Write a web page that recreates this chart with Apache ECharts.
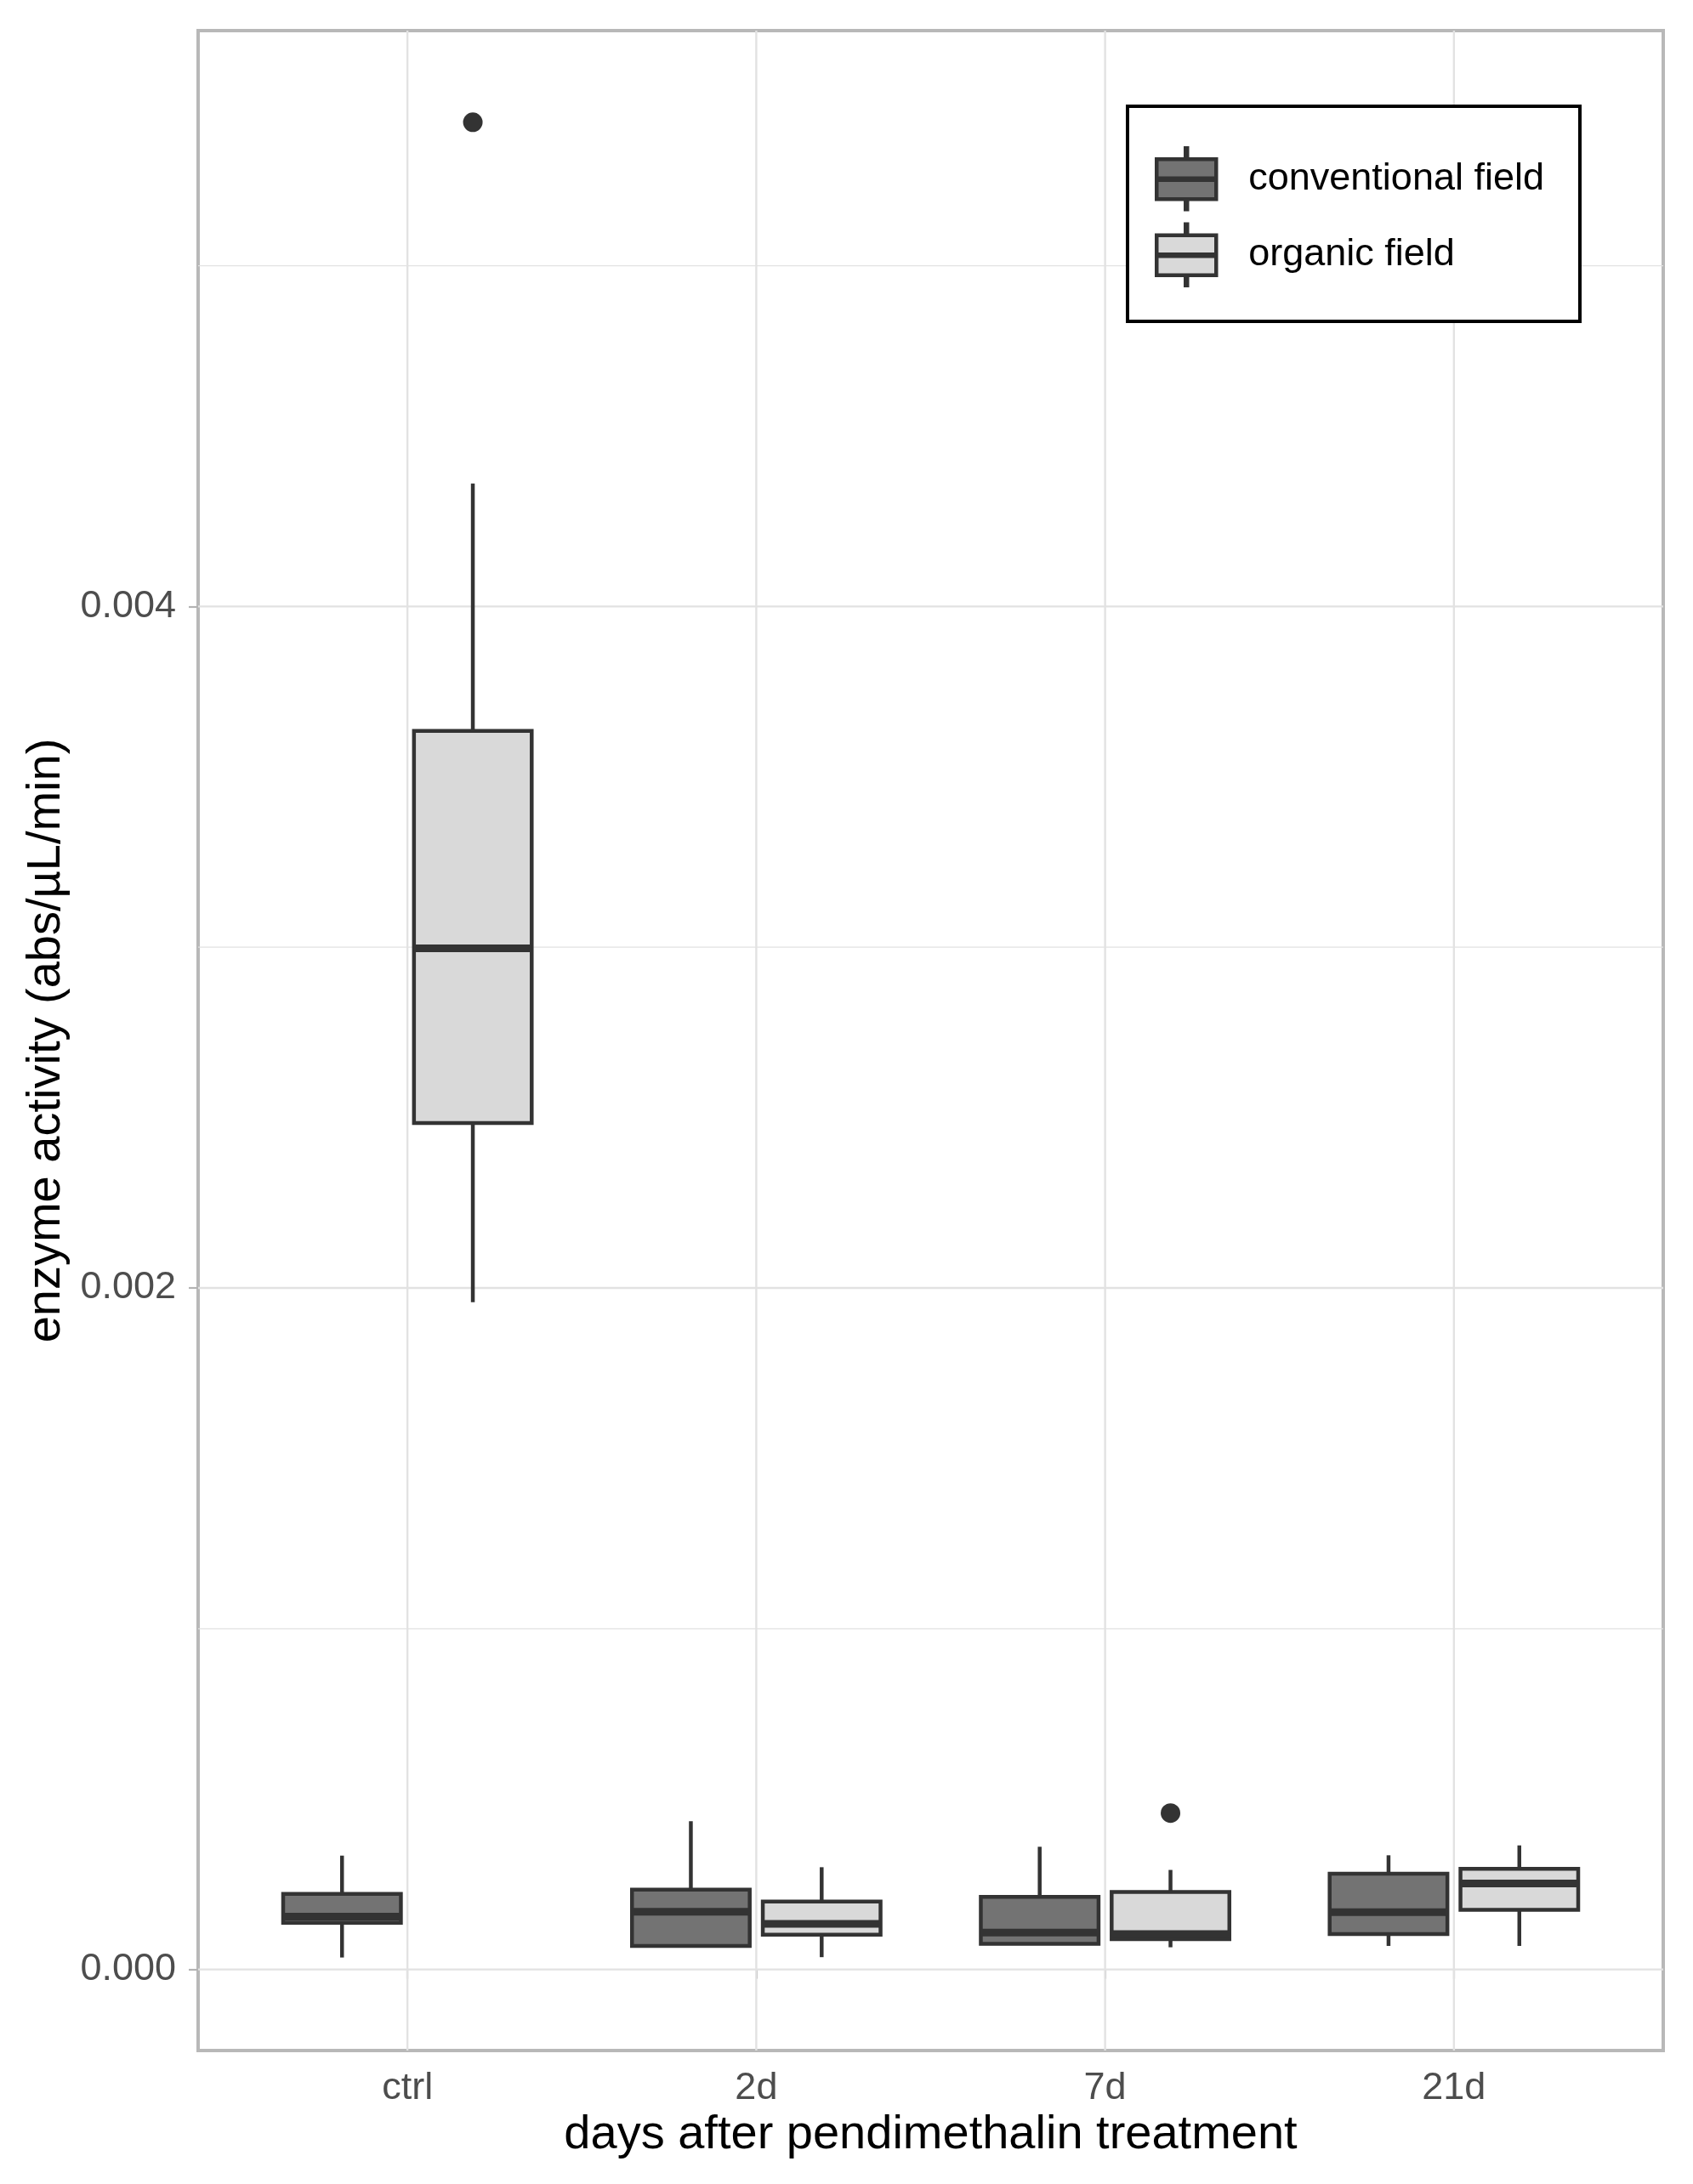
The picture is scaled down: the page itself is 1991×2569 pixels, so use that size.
<!DOCTYPE html>
<html>
<head>
<meta charset="utf-8">
<script src="https://cdn.jsdelivr.net/npm/echarts@6/dist/echarts.min.js"></script>
<style>
  html, body { margin: 0; padding: 0; background: #fff; }
  #chart { width: 1991px; height: 2569px; }
</style>
</head>
<body>
<div id="chart"></div>
<script>
// categories on the x axis
var categories = ['ctrl', '2d', '7d', '21d'];
// box stats per category: [min, Q1, median, Q3, max]
var conventionalStats = [
    [0.000035, 0.000137, 0.000155, 0.000222, 0.000334],
    [0.000069, 0.000069, 0.000169, 0.000234, 0.000435],
    [0.000075, 0.000075, 0.000108, 0.000213, 0.000360],
    [0.000069, 0.000104, 0.000168, 0.000281, 0.000335]
];
var organicStats = [
    [0.001958, 0.002484, 0.002997, 0.003635, 0.004361],
    [0.000036, 0.000102, 0.000134, 0.000199, 0.000300],
    [0.000065, 0.000089, 0.000104, 0.000227, 0.000292],
    [0.000069, 0.000175, 0.000252, 0.000295, 0.000364]
];
// outliers: [category, value]
var conventionalOutliers = [];
var organicOutliers = [['ctrl', 0.005421], ['7d', 0.000459]];
var yTicks = [0, 0.002, 0.004];
var yMinorTicks = [0.001, 0.003, 0.005];

var FONT = '"Liberation Sans", Arial, Helvetica, sans-serif';
var LINE_COLOR = '#333333';
var GRID_COLOR = '#e2e2e2';
var DODGE = 0.1875;      // half of dodge width 0.75
var BOX_WIDTH = 0.3375;  // box width in category units
// legend key: box with whiskers and median
var BOX_ICON = 'path://M0,13H70V60H0Z M34,0H36V13H34Z M34,60H36V72H34Z M0,35.5H70V37.5H0Z';

function statsData(stats) {
    return stats.map(function (s, i) { return [i + 1].concat(s); });
}
function outlierData(list) {
    return list.map(function (o) { return [categories.indexOf(o[0]) + 1, o[1]]; });
}

function boxItem(offset) {
    return function (params, api) {
        var x = api.value(0);
        var unit = api.size([1, 0])[0];
        var half = BOX_WIDTH * unit / 2;
        var pMin = api.coord([x, api.value(1)]);
        var pQ1 = api.coord([x, api.value(2)]);
        var pMed = api.coord([x, api.value(3)]);
        var pQ3 = api.coord([x, api.value(4)]);
        var pMax = api.coord([x, api.value(5)]);
        var cx = pMed[0] + offset * unit;
        var ls = { stroke: LINE_COLOR, lineWidth: 4.5 };
        return {
            type: 'group',
            children: [
                { type: 'line', shape: { x1: cx, y1: pMax[1], x2: cx, y2: pQ3[1] }, style: ls },
                { type: 'line', shape: { x1: cx, y1: pQ1[1], x2: cx, y2: pMin[1] }, style: ls },
                { type: 'rect', shape: { x: cx - half, y: pQ3[1], width: half * 2, height: pQ1[1] - pQ3[1] },
                  style: { fill: api.visual('color'), stroke: LINE_COLOR, lineWidth: 4.5 } },
                { type: 'line', shape: { x1: cx - half, y1: pMed[1], x2: cx + half, y2: pMed[1] },
                  style: { stroke: LINE_COLOR, lineWidth: 9 } }
            ]
        };
    };
}

function outlierItem(offset) {
    return function (params, api) {
        var p = api.coord([api.value(0), api.value(1)]);
        var unit = api.size([1, 0])[0];
        return { type: 'circle', shape: { cx: p[0] + offset * unit, cy: p[1], r: 11.5 }, style: { fill: LINE_COLOR } };
    };
}

// horizontal grid lines (major + minor)
function hGridItem(params, api) {
    var cs = params.coordSys;
    var v = api.value(1);
    var y = api.coord([1, v])[1];
    var major = yTicks.indexOf(v) >= 0;
    return { type: 'line', shape: { x1: cs.x, y1: y, x2: cs.x + cs.width, y2: y },
             style: { stroke: GRID_COLOR, lineWidth: major ? 2.4 : 1.3 } };
}
// vertical grid lines at categories
function vGridItem(params, api) {
    var cs = params.coordSys;
    var x = api.coord([api.value(0), 0])[0];
    return { type: 'line', shape: { x1: x, y1: cs.y, x2: x, y2: cs.y + cs.height },
             style: { stroke: GRID_COLOR, lineWidth: 2.4 } };
}

var chart = echarts.init(document.getElementById('chart'));
chart.setOption({
    animation: false,
    backgroundColor: '#ffffff',
    textStyle: { fontFamily: FONT },
    grid: {
        left: 233, right: 35, top: 36, bottom: 157,
        show: true, borderColor: '#b8b8b8', borderWidth: 4, backgroundColor: '#fff'
    },
    legend: {
        data: ['conventional field', 'organic field'],
        orient: 'vertical',
        left: 1326, top: 125,
        padding: [47, 42, 40, 32],
        itemWidth: 70, itemHeight: 72, itemGap: 13,
        icon: BOX_ICON,
        borderColor: '#000', borderWidth: 4,
        backgroundColor: '#fff',
        textStyle: { fontSize: 45, color: '#000', fontFamily: FONT, padding: [0, 0, 0, 33] },
        itemStyle: { borderColor: LINE_COLOR, borderWidth: 4.5 }
    },
    xAxis: {
        type: 'value',
        min: 0.4, max: 4.6,
        name: 'days after pendimethalin treatment',
        nameLocation: 'middle',
        nameGap: 72,
        nameTextStyle: { fontSize: 56, color: '#000', fontFamily: FONT },
        axisLine: { show: false },
        axisTick: { show: true, customValues: [1, 2, 3, 4], length: 11, lineStyle: { color: '#b3b3b3', width: 2.2 } },
        axisLabel: {
            customValues: [1, 2, 3, 4], margin: 22, fontSize: 45, color: '#4d4d4d', fontFamily: FONT,
            formatter: function (v) { return categories[Math.round(v) - 1]; }
        },
        splitLine: { show: false }
    },
    yAxis: {
        type: 'value',
        min: -0.000238, max: 0.00569,
        name: 'enzyme activity (abs/µL/min)',
        nameLocation: 'middle',
        nameGap: 150,
        nameTextStyle: { fontSize: 56, color: '#000', fontFamily: FONT },
        axisLine: { show: false },
        axisTick: { show: true, customValues: yTicks, length: 11, lineStyle: { color: '#b3b3b3', width: 2.2 } },
        axisLabel: {
            customValues: yTicks, margin: 26, fontSize: 45, color: '#4d4d4d', fontFamily: FONT,
            formatter: function (v) { return v.toFixed(3); }
        },
        splitLine: { show: false }
    },
    series: [
        {
            name: 'hgrid', type: 'custom', z: 1, silent: true,
            encode: { x: 0, y: 1 },
            renderItem: hGridItem,
            data: yTicks.concat(yMinorTicks).map(function (v) { return [1, v]; })
        },
        {
            name: 'vgrid', type: 'custom', z: 1, silent: true,
            encode: { x: 0, y: 1 },
            renderItem: vGridItem,
            data: categories.map(function (c, i) { return [i + 1, 0]; })
        },
        {
            name: 'conventional field', type: 'custom', z: 3,
            itemStyle: { color: '#737373', borderColor: LINE_COLOR, borderWidth: 4.5 },
            encode: { x: 0, y: [1, 2, 3, 4, 5] },
            renderItem: boxItem(-DODGE),
            data: statsData(conventionalStats)
        },
        {
            name: 'organic field', type: 'custom', z: 3,
            itemStyle: { color: '#d9d9d9', borderColor: LINE_COLOR, borderWidth: 4.5 },
            encode: { x: 0, y: [1, 2, 3, 4, 5] },
            renderItem: boxItem(DODGE),
            data: statsData(organicStats)
        },
        {
            name: 'conventional field', type: 'custom', z: 4,
            itemStyle: { color: '#737373' },
            encode: { x: 0, y: 1 },
            renderItem: outlierItem(-DODGE),
            data: outlierData(conventionalOutliers)
        },
        {
            name: 'organic field', type: 'custom', z: 4,
            itemStyle: { color: '#d9d9d9' },
            encode: { x: 0, y: 1 },
            renderItem: outlierItem(DODGE),
            data: outlierData(organicOutliers)
        }
    ]
});
</script>
</body>
</html>
